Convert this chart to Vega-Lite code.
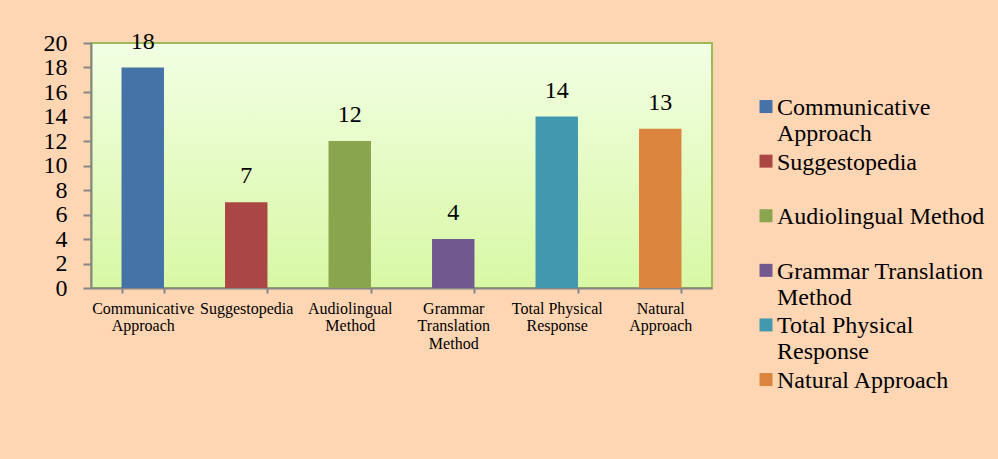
{
  "$schema": "https://vega.github.io/schema/vega-lite/v6.json",
  "width": 621,
  "height": 245,
  "autosize": {"type": "none"},
  "padding": {"left": 91, "top": 43, "right": 286, "bottom": 171},
  "background": "#FFD6B4",
  "config": {
    "font": "Liberation Serif",
    "view": {
      "fill": {"gradient": "linear", "x1": 0, "y1": 0, "x2": 0, "y2": 1,
        "stops": [{"offset": 0, "color": "#F2FFE3"}, {"offset": 1, "color": "#D8F8A5"}]},
      "stroke": "#9BBB59",
      "strokeWidth": 2
    },
    "axis": {
      "domainColor": "#868686", "domainWidth": 2,
      "tickColor": "#868686", "tickWidth": 2,
      "labelFont": "Liberation Serif",
      "labelColor": "#000000", "grid": false, "title": null, "zindex": 1
    },
    "legend": {"labelFont": "Liberation Serif"}
  },
  "data": {
    "values": [
      {"method": "Communicative Approach", "count": 18},
      {"method": "Suggestopedia", "count": 7},
      {"method": "Audiolingual Method", "count": 12},
      {"method": "Grammar Translation Method", "count": 4},
      {"method": "Total Physical Response", "count": 14},
      {"method": "Natural Approach", "count": 13}
    ]
  },
  "encoding": {
    "x": {
      "field": "method", "type": "nominal", "sort": null,
      "scale": {"paddingInner": 0.59, "paddingOuter": 0.295},
      "axis": {
        "labelAngle": 0, "tickBand": "extent", "tickSize": 5,
        "labelFontSize": 16, "labelLineHeight": 17.5, "labelPadding": 7, "labelLimit": 300,
        "labelExpr": "datum.label == 'Communicative Approach' ? ['Communicative','Approach'] : datum.label == 'Audiolingual Method' ? ['Audiolingual','Method'] : datum.label == 'Grammar Translation Method' ? ['Grammar','Translation','Method'] : datum.label == 'Total Physical Response' ? ['Total Physical','Response'] : datum.label == 'Natural Approach' ? ['Natural','Approach'] : datum.label"
      }
    },
    "y": {
      "field": "count", "type": "quantitative",
      "scale": {"domain": [0, 20], "nice": false},
      "axis": {"values": [0, 2, 4, 6, 8, 10, 12, 14, 16, 18, 20], "tickSize": 8, "labelPadding": 16, "labelFontSize": 24}
    }
  },
  "layer": [
    {
      "mark": {"type": "bar"},
      "encoding": {
        "color": {
          "field": "method", "type": "nominal", "sort": null,
          "scale": {
            "domain": ["Communicative Approach", "Suggestopedia", "Audiolingual Method", "Grammar Translation Method", "Total Physical Response", "Natural Approach"],
            "range": ["#4572A7", "#AA4643", "#89A54E", "#71588F", "#4198AF", "#DB843D"]
          },
          "legend": {
            "orient": "none", "legendX": 663, "legendY": 60, "title": null, "padding": 0,
            "symbolType": "M-1,-2.3H1V-0.3H-1Z", "symbolSize": 169, "symbolStrokeWidth": 0,
            "labelFontSize": 24, "labelLineHeight": 27.7, "labelBaseline": "alphabetic",
            "labelOffset": -1, "labelLimit": 400, "labelColor": "#000000", "rowPadding": 4.6,
            "labelExpr": "datum.label == 'Communicative Approach' ? ['Communicative','Approach'] : datum.label == 'Grammar Translation Method' ? ['Grammar Translation','Method'] : datum.label == 'Total Physical Response' ? ['Total Physical','Response'] : [datum.label, '']"
          }
        }
      }
    },
    {
      "mark": {"type": "text", "baseline": "alphabetic", "dy": -19, "fontSize": 24, "color": "#000000", "font": "Liberation Serif"},
      "encoding": {"text": {"field": "count", "type": "quantitative"}}
    }
  ]
}
